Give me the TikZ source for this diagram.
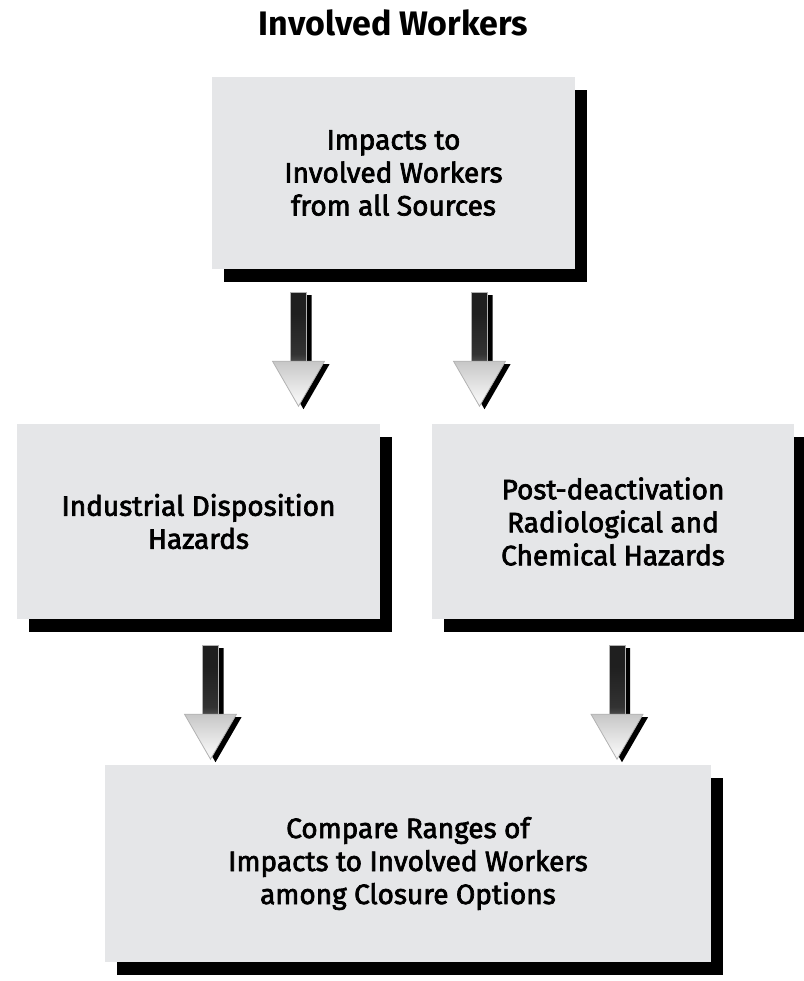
\documentclass[tikz,border=0pt]{standalone}
\usepackage{fontspec}
\setmainfont{Fira Sans}
\newfontfamily\boxfont{Fira Sans}[FakeBold=2.5]
\usetikzlibrary{calc,shadows}
\definecolor{boxgray}{RGB}{229,230,232}
\pgfdeclareverticalshading{shaftshade}{100bp}{color(0bp)=(gray!45); color(30bp)=(black!80); color(60bp)=(black!88); color(100bp)=(black!88)}
\pgfdeclareverticalshading{headshade}{100bp}{color(0bp)=(white); color(35bp)=(gray!10); color(100bp)=(gray!65)}
\tikzset{
  hazbox/.style={rectangle, fill=boxgray, align=center, inner sep=0pt,
    font=\boxfont\fontsize{28}{33}\selectfont,
    drop shadow={shadow xshift=12pt, shadow yshift=-13pt, fill=black, opacity=1}},
  fatarrow/.pic={
    \fill[black, shift={(5,3)}] (-8,0) rectangle (8,69) (-26,69) -- (26,69) -- (0,114) -- cycle;
    \shade[shading=shaftshade, draw=gray!60, line width=0.8pt] (-8,0) rectangle (8,69);
    \shade[shading=headshade, draw=gray!60, line width=0.8pt] (-26,69) -- (26,69) -- (0,114) -- cycle;
  }
}
\begin{document}
\begin{tikzpicture}[x=1pt, y=-1pt]
    \useasboundingbox (0,0) rectangle (803,981);
    \node[font=\bfseries\fontsize{34}{38}\selectfont] (title) at (393.5,23) {Involved Workers};
    \node[hazbox, minimum width=363pt, minimum height=192pt] (impacts) at (393.5,173) {Impacts to\\Involved Workers\\from all Sources};
    \node[hazbox, minimum width=363pt, minimum height=195pt] (industrial) at (198.5,521.5) {Industrial Disposition\\Hazards};
    \node[hazbox, minimum width=362pt, minimum height=195pt] (postdeact) at (613,521.5) {Post-deactivation\\Radiological and\\Chemical Hazards};
    \node[hazbox, minimum width=606pt, minimum height=197pt] (compare) at (408,863.5) {Compare Ranges of\\Impacts to Involved Workers\\among Closure Options};
    \pic at ($(impacts.south)+(-95,23)$) {fatarrow};
    \pic at ($(impacts.south)+(86,23)$) {fatarrow};
    \pic at ($(industrial.south)+(12,26)$) {fatarrow};
    \pic at ($(postdeact.south)+(4,26)$) {fatarrow};
\end{tikzpicture}
\end{document}
